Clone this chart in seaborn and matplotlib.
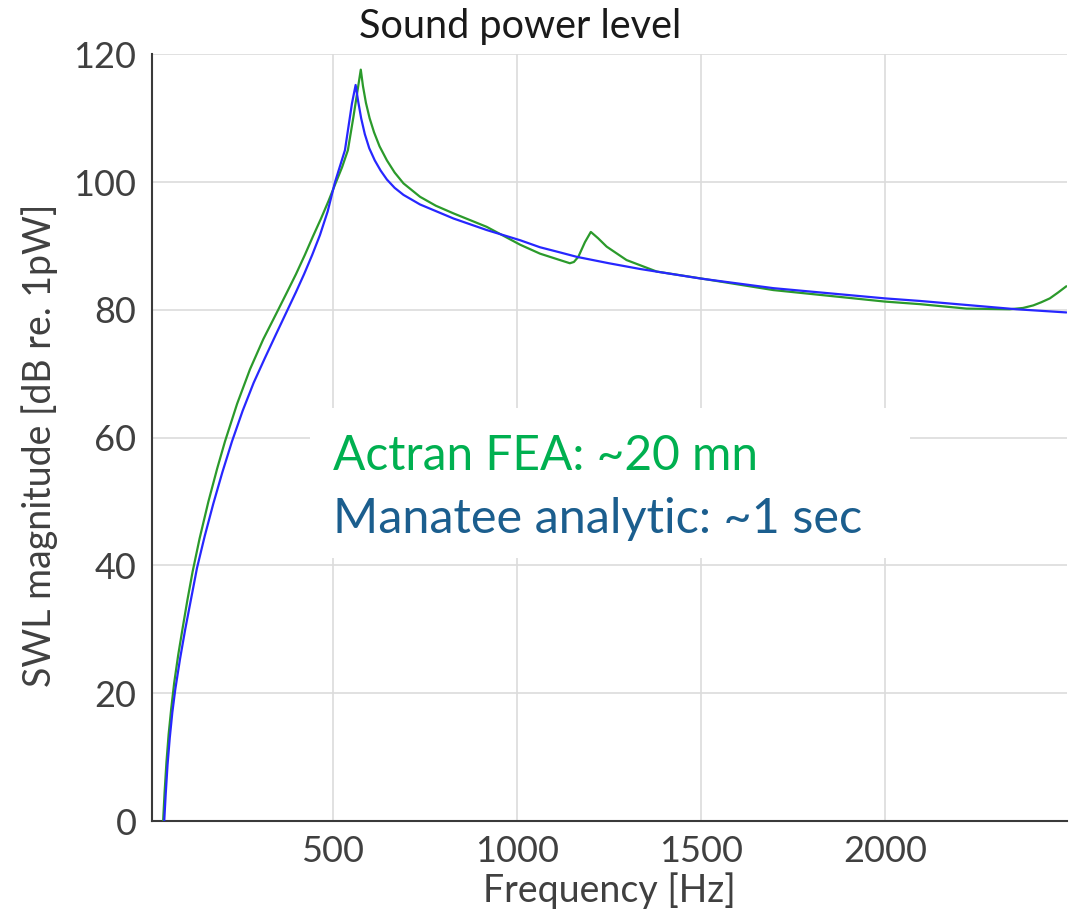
import matplotlib
matplotlib.use("Agg")
import matplotlib.pyplot as plt
import pandas as pd
import seaborn as sns
from matplotlib.patches import Rectangle

# Sound power level spectra (frequency in Hz, level in dB re. 1 pW)
freq_actran = [39, 43, 48, 54, 61, 69, 80, 92, 105, 119, 138, 162, 186, 207, 240,
               275, 311, 348, 375, 400, 424, 446, 468, 488, 506, 525, 541, 556, 576,
               582, 590, 600, 612, 627, 647, 668, 692, 737, 780, 828, 918, 1009,
               1063, 1117, 1144, 1155, 1167, 1185, 1201, 1221, 1244, 1298, 1380,
               1502, 1697, 2000, 2095, 2222, 2339, 2375, 2403, 2425, 2448, 2470,
               2493]
swl_actran = [0, 4.5, 9.2, 13.6, 17.6, 21.6, 26.0, 30.2, 34.6, 39.0, 44.2, 50,
              55.2, 59.4, 65.3, 70.7, 75.4, 79.6, 82.7, 85.6, 88.6, 91.5, 94.3,
              97.0, 99.6, 102.3, 105, 110.2, 117.6, 115.0, 112.4, 110.0, 107.8,
              105.6, 103.4, 101.5, 99.8, 97.7, 96.3, 95.1, 93.0, 90.2, 88.8, 87.8,
              87.3, 87.5, 88.3, 90.6, 92.2, 91.2, 89.9, 87.8, 86.0, 84.9, 83.1,
              81.3, 80.9, 80.2, 80.1, 80.3, 80.7, 81.2, 81.8, 82.7, 83.7]

freq_manatee = [42, 46, 51, 57, 64, 72, 85, 99, 114, 131, 152, 175, 200, 226, 255,
                285, 315, 345, 377, 400, 422, 444, 465, 486, 506, 533, 552, 562,
                569, 577, 587, 599, 614, 630, 647, 668, 692, 737, 828, 918, 1009,
                1063, 1117, 1163, 1250, 1335, 1500, 1697, 2000, 2095, 2357, 2493]
swl_manatee = [0, 4.2, 8.8, 13.0, 17.0, 20.6, 25.4, 30, 34.5, 39.6, 44.6, 49.6,
               54.6, 59.4, 64.2, 68.6, 72.4, 76.1, 80, 82.8, 85.6, 88.6, 91.7,
               95.4, 100, 105, 112.3, 115.2, 112.6, 110.0, 107.5, 105.3, 103.4,
               101.8, 100.4, 99.1, 98.0, 96.5, 94.3, 92.5, 90.9, 89.8, 89.0, 88.3,
               87.3, 86.4, 84.9, 83.4, 81.8, 81.4, 80.1, 79.6]

model_names = ["Actran FEA", "Manatee analytic"]
line_colors = ["#2b9a2b", "#2727ff"]

x_ticks = [500, 1000, 1500, 2000]
y_ticks = [0, 20, 40, 60, 80, 100, 120]

title_text = "Sound power level"
x_label = "Frequency [Hz]"
y_label = "SWL magnitude [dB re. 1pW]"
note_actran = "Actran FEA: ~20 mn"
note_manatee = "Manatee analytic: ~1 sec"

sns.set_theme(style="whitegrid")
plt.rcParams["font.family"] = ["Lato", "DejaVu Sans"]

df = pd.concat([
    pd.DataFrame({"freq": freq_actran, "swl": swl_actran, "model": model_names[0]}),
    pd.DataFrame({"freq": freq_manatee, "swl": swl_manatee, "model": model_names[1]}),
], ignore_index=True)

fig = plt.figure(figsize=(10.76, 9.19), dpi=100)
ax = fig.add_axes([0.141, 0.1066, 0.8504, 0.8343])

sns.lineplot(data=df, x="freq", y="swl", hue="model", hue_order=model_names,
             palette=line_colors, sort=False, estimator=None, legend=False,
             linewidth=1.6, ax=ax, zorder=3)
for line in ax.get_lines():
    line.set_solid_joinstyle("round")

ax.set_xlim(8, 2494)
ax.set_ylim(0, 120)
ax.set_xticks(x_ticks)
ax.set_yticks(y_ticks)

ax.grid(True, color="#dcdcdc", linewidth=1.2)
for side in ("top", "right"):
    ax.spines[side].set_visible(False)
for side in ("left", "bottom"):
    ax.spines[side].set_color("#3a3a3a")
    ax.spines[side].set_linewidth(1.5)

ax.tick_params(axis="both", direction="in", length=6, width=1.3, color="#3a3a3a",
               labelsize=26, labelcolor="#404040")
ax.tick_params(axis="y", pad=11)
ax.tick_params(axis="x", pad=10)

ax.set_xlabel(x_label, fontsize=27, color="#404040", labelpad=3)
ax.set_ylabel(y_label, fontsize=27, color="#404040")
ax.yaxis.label.set_va("center")
ax.yaxis.set_label_coords(-0.122, 0.49)

# white panel behind the run-time note, hiding the grid beneath it
ax.add_patch(Rectangle((438, 41.2), 1630, 23.4, facecolor="white",
                       edgecolor="none", zorder=1))
ax.text(500, 54.9, note_actran, fontsize=34.5, color="#00b050",
        ha="left", va="baseline", zorder=4)
ax.text(500, 45.1, note_manatee, fontsize=35, color="#1b5e8e",
        ha="left", va="baseline", zorder=4)

fig.text(0.4833, 0.9587, title_text, fontsize=28.5, color="#1a1a1a",
         ha="center", va="baseline")

fig.savefig("out.png", dpi=100, facecolor="white")
